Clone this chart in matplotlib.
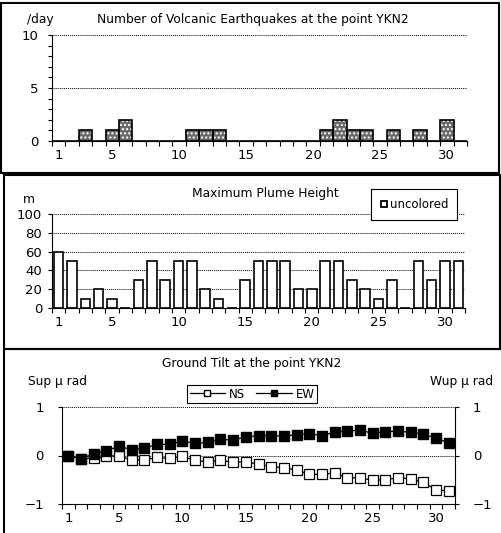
import matplotlib
matplotlib.use("Agg")
import matplotlib.pyplot as plt
import numpy as np
from matplotlib.patches import Rectangle
from matplotlib.lines import Line2D

plt.rcParams['font.family'] = ['DejaVu Sans']

days = np.arange(1, 32)
day_labels = [1, 5, 10, 15, 20, 25, 30]

# volcanic earthquakes per day (YKN2)
quakes = [0, 0, 1, 0, 1, 2, 0, 0, 0, 0, 1, 1, 1, 0, 0, 0, 0, 0, 0, 0,
          1, 2, 1, 1, 0, 1, 0, 1, 0, 2, 0]

# maximum plume height (m)
plume = [60, 50, 10, 20, 10, 0, 30, 50, 30, 50, 50, 20, 10, 0, 30, 50,
         50, 50, 20, 20, 50, 50, 30, 20, 10, 30, 0, 50, 30, 50, 50]

# ground tilt (micro rad)
tilt_ns = [0.0, -0.07, -0.05, -0.02, 0.0, -0.1, -0.09, -0.04, -0.06, -0.02,
           -0.1, -0.13, -0.1, -0.14, -0.13, -0.18, -0.23, -0.25, -0.3, -0.39,
           -0.39, -0.36, -0.46, -0.46, -0.51, -0.5, -0.46, -0.48, -0.55, -0.71, -0.73]
tilt_ew = [0.0, -0.07, 0.04, 0.1, 0.19, 0.12, 0.15, 0.23, 0.23, 0.3,
           0.25, 0.27, 0.33, 0.32, 0.38, 0.41, 0.41, 0.4, 0.43, 0.45,
           0.41, 0.48, 0.51, 0.52, 0.46, 0.49, 0.5, 0.48, 0.44, 0.36, 0.26]

W, H = 501, 533
fig = plt.figure(figsize=(W / 100, H / 100), dpi=100)
TICK_FS = 9.5
TEXT_FS = 8.8


def px_axes(x0, x1, ytop, ybot):
    return fig.add_axes([x0 / W, 1 - ybot / H, (x1 - x0) / W, (ybot - ytop) / H])


def fig_text(x, y, s, **kw):
    fig.text(x / W, 1 - y / H, s, fontsize=TEXT_FS, **kw)


def day_axis(ax):
    ax.set_xlim(0.5, 31.5)
    ax.set_xticks(np.arange(0.5, 32.5, 1))
    ax.set_xticklabels([])
    ax.set_xticks(day_labels, minor=True)
    ax.set_xticklabels([str(d) for d in day_labels], minor=True, fontsize=TICK_FS)
    ax.tick_params(axis='x', which='major', direction='out', length=3.5, width=0.8)
    ax.tick_params(axis='x', which='minor', length=0, pad=6)
    ax.spines['top'].set_visible(False)
    ax.spines['right'].set_visible(False)
    ax.set_facecolor('none')


# panel frames
for (x0, y0, x1, y1) in [(1, 3, 499, 173), (4, 175, 500, 349), (4, 349, 502, 540)]:
    fig.add_artist(Rectangle((x0 / W, 1 - y1 / H), (x1 - x0) / W, (y1 - y0) / H,
                             transform=fig.transFigure, fill=False,
                             edgecolor='black', linewidth=1.5))

# --- earthquakes ---
ax1 = px_axes(52, 467, 35, 141)
day_axis(ax1)
ax1.bar(days, quakes, width=1.0, color='#6a6a6a', linewidth=0)
ax1.bar(days, quakes, width=1.0, color='none', edgecolor='white', hatch='....', linewidth=0)
ax1.bar(days, quakes, width=1.0, fill=False, edgecolor='black', linewidth=1.2)
ax1.set_ylim(0, 10)
ax1.set_yticks([0, 5, 10])
ax1.set_yticks(range(11), minor=True)
ax1.tick_params(axis='y', which='both', direction='out', length=3, width=0.8,
                labelsize=TICK_FS, pad=7)
for v in [5, 10]:
    ax1.axhline(v, color='black', linestyle=(0, (1, 1)), linewidth=0.7)
fig_text(27, 20, '/day', va='center')
fig_text(253, 20, 'Number of Volcanic Earthquakes at the point YKN2', ha='center', va='center')

# --- plume ---
ax2 = px_axes(52, 465, 214, 308)
day_axis(ax2)
ax2.bar(days, plume, width=0.72, color='white', edgecolor='black', linewidth=1.2)
ax2.set_ylim(0, 100)
ax2.set_yticks(range(0, 101, 20))
ax2.tick_params(axis='y', direction='out', length=3, width=0.8, labelsize=TICK_FS, pad=4)
for v in range(20, 101, 20):
    ax2.axhline(v, color='black', linestyle=(0, (1, 1)), linewidth=0.7, zorder=0)
box_handle = Line2D([], [], linestyle='none', marker='s', markersize=5,
                    markerfacecolor='white', markeredgecolor='black', markeredgewidth=1.3)
leg2 = ax2.legend([box_handle], ['uncolored'], loc='upper right',
                  bbox_to_anchor=(457 / W, 1 - 189 / H),
                  bbox_transform=fig.transFigure, fontsize=8.5, fancybox=False,
                  edgecolor='black', handlelength=0.6, handletextpad=0.2,
                  borderpad=0.75, borderaxespad=0, framealpha=1)
leg2.get_frame().set_linewidth(0.8)
fig_text(29, 200, 'm', ha='center', va='center')
fig_text(265, 193, 'Maximum Plume Height', ha='center', va='center')

# --- tilt ---
ax3 = px_axes(62, 455, 407, 504)
day_axis(ax3)
ax3.spines['right'].set_visible(True)
ax3.plot(days, tilt_ns, color='black', linewidth=0.9, marker='s', markersize=7,
         markerfacecolor='white', markeredgecolor='black', markeredgewidth=0.9)
ax3.plot(days, tilt_ew, color='black', linewidth=0.9, marker='s', markersize=7,
         markerfacecolor='black', markeredgecolor='black')
ax3.set_ylim(-1, 1)
ax3.set_yticks([-1, 0, 1])
ax3.set_yticklabels(['\u22121', '0', '1'])
ax3.tick_params(axis='y', direction='out', length=3, width=0.8, labelsize=TICK_FS,
                right=True, labelright=True, pad=10)
for v in [0, 1]:
    ax3.axhline(v, color='black', linestyle=(0, (1, 1)), linewidth=0.7, zorder=0)
ns_handle = Line2D([], [], color='black', linewidth=0.9, marker='s', markersize=5,
                   markerfacecolor='white', markeredgecolor='black')
ew_handle = Line2D([], [], color='black', linewidth=0.9, marker='s', markersize=5,
                   markerfacecolor='black', markeredgecolor='black')
leg3 = ax3.legend([ns_handle, ew_handle], ['NS', 'EW'], loc='center',
                  bbox_to_anchor=(252 / W, 1 - 394 / H),
                  bbox_transform=fig.transFigure, ncol=2, fontsize=8.5, fancybox=False,
                  edgecolor='black', handlelength=3.0, handletextpad=0.3,
                  columnspacing=1.0, borderpad=0.2, framealpha=1)
leg3.get_frame().set_linewidth(0.8)
fig_text(252, 364, 'Ground Tilt at the point YKN2', ha='center', va='center')
fig_text(28, 382, 'Sup \u03bc rad', va='center')
fig_text(493, 382, 'Wup \u03bc rad', ha='right', va='center')

fig.savefig('out.png', dpi=100)
